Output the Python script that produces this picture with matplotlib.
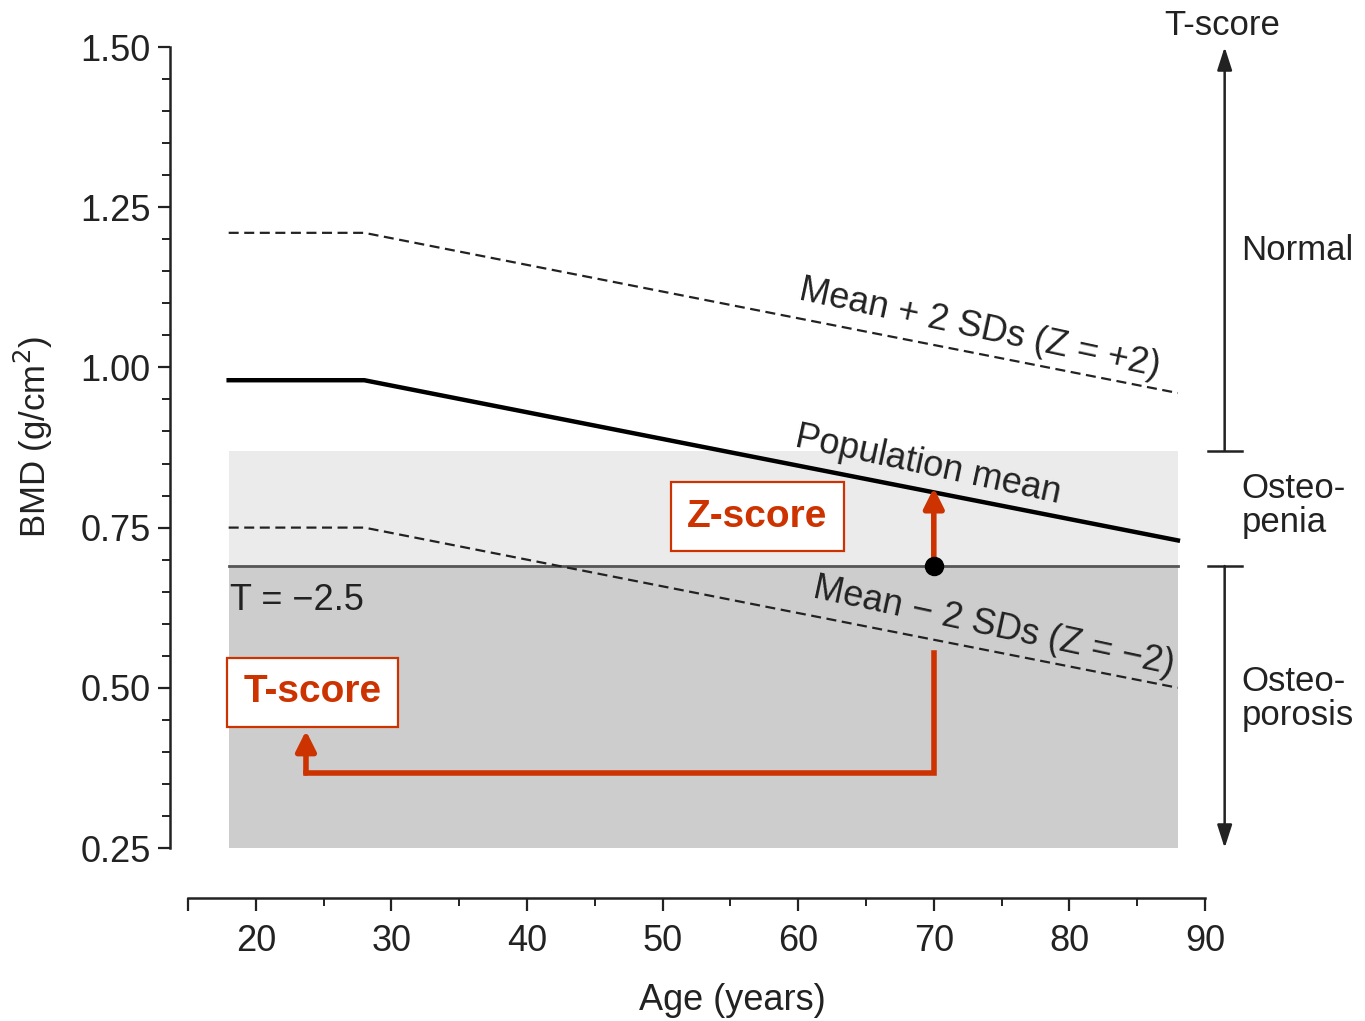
import numpy as np
import matplotlib.pyplot as plt

plt.rcParams['font.family'] = ['Liberation Sans', 'DejaVu Sans']

# BMD curves (age in years, BMD in g/cm2)
ages = [18, 28, 88]
mean_bmd = [0.98, 0.98, 0.73]
plus2_bmd = [1.21, 1.21, 0.96]
minus2_bmd = [0.75, 0.75, 0.50]

# WHO zones
t_threshold = 0.69      # T = -2.5
osteopenia_top = 0.87   # T = -1
zone_ages = [18, 88]

# example patient
patient_age = 70
patient_bmd = 0.69
tscore_age = 23.7

red = '#cc3300'
ink = '#222222'

fig = plt.figure(figsize=(13.65, 10.21), dpi=100)
ax = fig.add_axes([188 / 1365, 1 - 848 / 1021, (1205 - 188) / 1365, (848 - 47) / 1021])
ax.set_xlim(15, 90)
ax.set_ylim(0.25, 1.50)

# spines
for s in ['top', 'right']:
    ax.spines[s].set_visible(False)
ax.spines['bottom'].set_position(('outward', 36))
ax.spines['left'].set_position(('outward', 13))
ax.spines['left'].set_bounds(0.25, 1.50)
ax.spines['bottom'].set_bounds(15, 90)
for s in ['left', 'bottom']:
    ax.spines[s].set_linewidth(1.8)
    ax.spines[s].set_color(ink)

ax.set_xticks([15, 20, 30, 40, 50, 60, 70, 80, 90])
ax.set_xticklabels(['', '20', '30', '40', '50', '60', '70', '80', '90'])
ax.set_xticks(np.arange(25, 90, 10), minor=True)
ax.set_yticks([0.25, 0.50, 0.75, 1.00, 1.25, 1.50])
ax.set_yticklabels(['0.25', '0.50', '0.75', '1.00', '1.25', '1.50'])
ax.set_yticks(np.arange(0.30, 1.50, 0.05), minor=True)
ax.tick_params(axis='both', which='major', labelsize=26, length=9, width=1.6, colors=ink)
ax.tick_params(axis='both', which='minor', length=6, width=1.4, colors=ink)
ax.tick_params(axis='x', pad=10)
ax.tick_params(axis='y', pad=5)

ax.set_xlabel('Age (years)', fontsize=26, color=ink)
ax.xaxis.set_label_coords((732 - 188) / 1017, -0.168)
ax.set_ylabel('BMD (g/cm$^2$)', fontsize=25, color=ink)
ax.yaxis.set_label_coords(-0.131, 0.513)

# shaded zones
ax.fill_between(zone_ages, t_threshold, osteopenia_top, color='#ebebeb', lw=0, zorder=0)
ax.fill_between(zone_ages, 0.25, t_threshold, color='#cdcdcd', lw=0, zorder=0)
ax.plot(zone_ages, [t_threshold, t_threshold], color='#555555', lw=2, zorder=1)

# curves
ax.plot(ages, mean_bmd, color='black', lw=3.2, zorder=2)
ax.plot(ages, plus2_bmd, color=ink, lw=1.6, dashes=(4.5, 2.5), zorder=2)
ax.plot(ages, minus2_bmd, color=ink, lw=1.6, dashes=(4.5, 2.5), zorder=2)

# text rotation from slope on screen
p0 = ax.transData.transform((ages[1], mean_bmd[1]))
p1 = ax.transData.transform((ages[2], mean_bmd[2]))
ang = np.degrees(np.arctan2(p1[1] - p0[1], p1[0] - p0[0]))

ax.text(73.4, 1.061, 'Mean + 2 SDs (Z = +2)', fontsize=26, rotation=ang - 1,
        ha='center', va='center', color=ink, rotation_mode='anchor')
ax.text(69.6, 0.847, 'Population mean', fontsize=26, rotation=ang - 1,
        ha='center', va='center', color=ink, rotation_mode='anchor')
ax.text(74.4, 0.595, 'Mean \u2212 2 SDs (Z = \u22122)', fontsize=26, rotation=ang - 1,
        ha='center', va='center', color=ink, rotation_mode='anchor')
ax.text(18.1, 0.637, 'T = \u22122.5', fontsize=26, ha='left', va='center', color=ink)

# Z-score arrow
ax.annotate('', xy=(patient_age, 0.812), xytext=(patient_age, patient_bmd),
            arrowprops=dict(arrowstyle='-|>,head_length=1.2,head_width=0.6',
                            color=red, lw=4, shrinkA=0, shrinkB=0), zorder=4)
ax.plot([patient_age], [patient_bmd], 'o', color='black', ms=13, zorder=5)

# T-score path
ax.plot([patient_age, patient_age, tscore_age], [0.555, 0.367, 0.367],
        color=red, lw=4, solid_joinstyle='miter', zorder=4)
ax.annotate('', xy=(tscore_age, 0.433), xytext=(tscore_age, 0.367),
            arrowprops=dict(arrowstyle='-|>,head_length=1.2,head_width=0.6',
                            color=red, lw=4, shrinkA=0, shrinkB=0), zorder=4)

box = dict(boxstyle='square,pad=0.42', fc='white', ec=red, lw=1.6)
ax.text(57.0, 0.767, 'Z-score', fontsize=28, fontweight='bold', color=red,
        ha='center', va='center', bbox=box, zorder=6)
ax.text(24.2, 0.493, 'T-score', fontsize=28, fontweight='bold', color=red,
        ha='center', va='center', bbox=box, zorder=6)

# T-score scale on the right
sx = 91.45
ax.annotate('', xy=(sx, 1.50), xytext=(sx, osteopenia_top), annotation_clip=False,
            arrowprops=dict(arrowstyle='-|>,head_length=1.4,head_width=0.45',
                            color=ink, lw=1.8, shrinkA=0, shrinkB=0))
ax.annotate('', xy=(sx, 0.25), xytext=(sx, t_threshold), annotation_clip=False,
            arrowprops=dict(arrowstyle='-|>,head_length=1.4,head_width=0.45',
                            color=ink, lw=1.8, shrinkA=0, shrinkB=0))
for yb in [osteopenia_top, t_threshold]:
    ax.plot([sx - 1.25, sx + 1.25], [yb, yb], color=ink, lw=1.8, clip_on=False)

ax.text(sx - 0.2, 1.534, 'T-score', fontsize=25, ha='center', va='center', color=ink)
ax.text(sx + 1.25, 1.183, 'Normal', fontsize=25, ha='left', va='center', color=ink)
ax.text(sx + 1.25, 0.784, 'Osteo-\npenia', fontsize=25, ha='left', va='center',
        color=ink, linespacing=1.05)
ax.text(sx + 1.25, 0.483, 'Osteo-\nporosis', fontsize=25, ha='left', va='center',
        color=ink, linespacing=1.05)

fig.savefig('out.png', dpi=100)
